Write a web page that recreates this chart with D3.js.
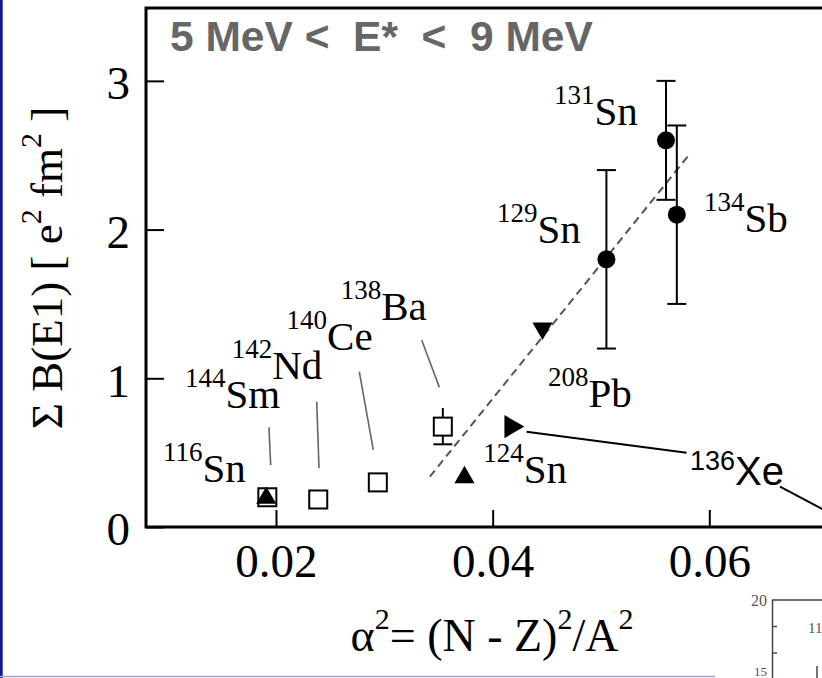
<!DOCTYPE html>
<html>
<head>
<meta charset="utf-8">
<script src="https://d3js.org/d3.v7.min.js"></script>
<style>
  body { margin: 0; background: #fff; }
  svg text { white-space: pre; }
</style>
</head>
<body>
<div id="chart"></div>
<script>
// Data
var xTicks = [0.02, 0.04, 0.06];
var yTicks = [0, 1, 2, 3];

// filled circles with error bars (radioactive beams)
var circleNames = ["129Sn", "131Sn", "134Sb"];
var circleX = [0.0505, 0.0560, 0.0570];
var circleY = [1.80, 2.60, 2.10];
var circleLo = [1.20, 2.20, 1.50];
var circleHi = [2.40, 3.00, 2.70];

// open squares (stable N=82 isotones)
var squareNames = ["144Sm", "142Nd", "140Ce", "138Ba"];
var squareX = [0.0192, 0.0239, 0.0294, 0.0354];
var squareY = [0.200, 0.185, 0.300, 0.675];
var squareLo = [null, null, null, 0.556];
var squareHi = [null, null, null, 0.800];

// triangles
var upTriX = [0.0191, 0.0374];
var upTriY = [0.195, 0.334];
var downTriX = [0.0446];
var downTriY = [1.336];
var rightTriX = [0.0417];
var rightTriY = [0.675];

// dashed guide line
var fitX = [0.0342, 0.0581];
var fitY = [0.338, 2.50];

// labels: superscript, symbol, anchor (data units)
var labelSup = ["131", "129", "134", "208", "124", "116", "144", "142", "140", "138"];
var labelSym = ["Sn", "Sn", "Sb", "Pb", "Sn", "Sn", "Sm", "Nd", "Ce", "Ba"];
var labelX = [0.04566, 0.0404, 0.0595, 0.04511, 0.03913, 0.00957, 0.0116, 0.01591, 0.02098, 0.02597];
var labelY = [2.704, 1.908, 1.986, 0.809, 0.294, 0.305, 0.798, 0.993, 1.190, 1.392];

// gray leader lines from labels to points
var leaders = [
    [[0.01935, 0.670], [0.01951, 0.417]],
    [[0.02376, 0.843], [0.02397, 0.395]],
    [[0.02769, 1.044], [0.02898, 0.518]],
    [[0.03345, 1.258], [0.03508, 0.939]]
];
// 136Xe pointer
var xePointer = [
    [[0.04313, 0.641], [0.05790, 0.500]],
    [[0.06653, 0.271], [0.07114, 0.094]]
];
var xeLabel = { sup: "136", sym: "Xe", x: 0.05822, y: 0.282 };

var W = 822, H = 678;

var svg = d3.select("#chart")
    .append("svg")
    .attr("width", W)
    .attr("height", H)
    .style("display", "block");

svg.append("rect").attr("width", W).attr("height", H).attr("fill", "#fff");

// slide decoration: navy bar on the left, light line at the bottom
svg.append("rect").attr("x", 0).attr("y", 0).attr("width", 2.7).attr("height", H).attr("fill", "#14148c");
svg.append("line").attr("x1", 0).attr("x2", 715).attr("y1", 676.5).attr("y2", 676.5)
    .attr("stroke", "#a4a4d8").attr("stroke-width", 1.5);

// scales
var x = d3.scaleLinear().domain([0.008, 0.075]).range([146, 146 + 0.067 * 10833]);
var y = d3.scaleLinear().domain([0, 3.49]).range([527, 8]);

var serif = "'Liberation Serif', 'Times New Roman', serif";
var sans = "'Liberation Sans', Arial, sans-serif";

// frame: top + left + bottom
svg.append("path")
    .attr("d", "M" + x.range()[1] + "," + y(3.49) + "H" + x(0.008) + "V" + y(0) + "H" + x.range()[1])
    .attr("fill", "none")
    .attr("stroke", "#000")
    .attr("stroke-width", 3);

// axes with inward ticks
var xAxis = d3.axisBottom(x).tickValues(xTicks).tickSize(-17).tickPadding(17)
    .tickFormat(d3.format(".2f"));
var gx = svg.append("g").attr("transform", "translate(0," + y(0) + ")").call(xAxis);
gx.select(".domain").remove();
gx.selectAll("line").attr("stroke-width", 2);
gx.selectAll("text").attr("font-family", serif).attr("font-size", 47).attr("fill", "#000");

var yAxis = d3.axisLeft(y).tickValues(yTicks).tickSize(-18).tickPadding(16)
    .tickFormat(d3.format("d"));
var gy = svg.append("g").attr("transform", "translate(" + x(0.008) + ",0)").call(yAxis);
gy.select(".domain").remove();
gy.selectAll("line").attr("stroke-width", 2);
gy.selectAll("text").attr("font-family", serif).attr("font-size", 47).attr("fill", "#000")
    .attr("dy", "0.38em");

// title
svg.append("text")
    .attr("x", 170).attr("y", 51)
    .attr("font-family", sans).attr("font-weight", "bold").attr("font-size", 42.5)
    .attr("fill", "#666")
    .text("5 MeV <  E*  <  9 MeV");

// axis titles
var yt = svg.append("text")
    .attr("transform", "translate(62,268) rotate(-90)")
    .attr("text-anchor", "middle")
    .attr("font-family", serif).attr("font-size", 45).attr("fill", "#000");
yt.append("tspan").text("\u03A3 B(E1) [ e");
yt.append("tspan").attr("font-size", 30).attr("dy", -21).text("2");
yt.append("tspan").attr("dy", 21).text(" fm");
yt.append("tspan").attr("font-size", 30).attr("dy", -21).text("2");
yt.append("tspan").attr("dy", 21).text(" ]");

var xt = svg.append("text")
    .attr("x", 492).attr("y", 651)
    .attr("text-anchor", "middle")
    .attr("font-family", serif).attr("font-size", 46).attr("fill", "#000");
xt.append("tspan").text("\u03B1");
xt.append("tspan").attr("font-size", 30).attr("dy", -22).text("2");
xt.append("tspan").attr("dy", 22).text("= (N - Z)");
xt.append("tspan").attr("font-size", 30).attr("dy", -22).text("2");
xt.append("tspan").attr("dy", 22).text("/A");
xt.append("tspan").attr("font-size", 30).attr("dy", -22).text("2");

// dashed guide line
svg.append("line")
    .attr("x1", x(fitX[0])).attr("y1", y(fitY[0]))
    .attr("x2", x(fitX[1])).attr("y2", y(fitY[1]))
    .attr("stroke", "#555").attr("stroke-width", 2).attr("stroke-dasharray", "8,5");

// leader lines
svg.selectAll(".leader")
    .data(leaders)
    .enter()
    .append("line")
    .attr("class", "leader")
    .attr("x1", function (d) { return x(d[0][0]); })
    .attr("y1", function (d) { return y(d[0][1]); })
    .attr("x2", function (d) { return x(d[1][0]); })
    .attr("y2", function (d) { return y(d[1][1]); })
    .attr("stroke", "#666").attr("stroke-width", 1.6);

svg.selectAll(".xeline")
    .data(xePointer)
    .enter()
    .append("line")
    .attr("class", "xeline")
    .attr("x1", function (d) { return x(d[0][0]); })
    .attr("y1", function (d) { return y(d[0][1]); })
    .attr("x2", function (d) { return x(d[1][0]); })
    .attr("y2", function (d) { return y(d[1][1]); })
    .attr("stroke", "#000").attr("stroke-width", 2);

// error bars helper
var drawErr = function (cx, lo, hi, capLo, capHi) {
    var g = svg.append("g").attr("stroke", "#000").attr("stroke-width", 2);
    g.append("line").attr("x1", cx).attr("x2", cx).attr("y1", y(lo)).attr("y2", y(hi));
    if (capLo) g.append("line").attr("x1", cx - 9.5).attr("x2", cx + 9.5).attr("y1", y(lo)).attr("y2", y(lo));
    if (capHi) g.append("line").attr("x1", cx - 9.5).attr("x2", cx + 9.5).attr("y1", y(hi)).attr("y2", y(hi));
};

circleX.forEach(function (d, i) {
    drawErr(x(d), circleLo[i], circleHi[i], true, true);
});
squareX.forEach(function (d, i) {
    if (squareLo[i] !== null) drawErr(x(d), squareLo[i], squareHi[i], true, false);
});

// open squares
svg.selectAll(".sq")
    .data(squareX)
    .enter()
    .append("rect")
    .attr("class", "sq")
    .attr("x", function (d) { return x(d) - 9; })
    .attr("y", function (d, i) { return y(squareY[i]) - 9; })
    .attr("width", 18).attr("height", 18)
    .attr("fill", "#fff").attr("stroke", "#000").attr("stroke-width", 2);

// filled circles
svg.selectAll(".dot")
    .data(circleX)
    .enter()
    .append("circle")
    .attr("class", "dot")
    .attr("cx", function (d) { return x(d); })
    .attr("cy", function (d, i) { return y(circleY[i]); })
    .attr("r", 9)
    .attr("fill", "#000");

// triangles
var tri = d3.symbol().type(d3.symbolTriangle).size(175);
svg.selectAll(".up")
    .data(upTriX)
    .enter()
    .append("path")
    .attr("class", "up")
    .attr("d", tri)
    .attr("transform", function (d, i) { return "translate(" + x(d) + "," + y(upTriY[i]) + ")"; })
    .attr("fill", "#000");
svg.selectAll(".down")
    .data(downTriX)
    .enter()
    .append("path")
    .attr("class", "down")
    .attr("d", tri)
    .attr("transform", function (d, i) { return "translate(" + x(d) + "," + y(downTriY[i]) + ") rotate(180)"; })
    .attr("fill", "#000");
svg.selectAll(".right")
    .data(rightTriX)
    .enter()
    .append("path")
    .attr("class", "right")
    .attr("d", d3.symbol().type(d3.symbolTriangle).size(230))
    .attr("transform", function (d, i) { return "translate(" + x(d) + "," + y(rightTriY[i]) + ") rotate(90)"; })
    .attr("fill", "#000");

// nucleus labels
labelSym.forEach(function (s, i) {
    var t = svg.append("text")
        .attr("x", x(labelX[i])).attr("y", y(labelY[i]))
        .attr("font-family", serif).attr("font-size", 41).attr("fill", "#000");
    t.append("tspan").attr("font-size", 27).attr("dy", -21).text(labelSup[i]);
    t.append("tspan").attr("dy", 21).text(s);
});

var xe = svg.append("text")
    .attr("x", x(xeLabel.x)).attr("y", y(xeLabel.y))
    .attr("font-family", sans).attr("font-size", 40).attr("fill", "#000");
xe.append("tspan").attr("font-size", 27).attr("dy", -15).text(xeLabel.sup);
xe.append("tspan").attr("dy", 15).text(xeLabel.sym);

// corner of the next figure peeking in at the bottom right
var inset = svg.append("g").attr("stroke", "#444").attr("stroke-width", 1.5);
inset.append("path").attr("d", "M822,600H772.5V678").attr("fill", "none");
inset.append("line").attr("x1", 772.5).attr("x2", 777).attr("y1", 626.5).attr("y2", 626.5);
inset.append("line").attr("x1", 772.5).attr("x2", 777).attr("y1", 653).attr("y2", 653);
inset.append("line").attr("x1", 817).attr("x2", 817).attr("y1", 666).attr("y2", 678);
svg.append("text").attr("x", 767).attr("y", 606).attr("text-anchor", "end")
    .attr("font-family", serif).attr("font-size", 16).attr("fill", "#555").text("20");
svg.append("text").attr("x", 767).attr("y", 676).attr("text-anchor", "end")
    .attr("font-family", serif).attr("font-size", 13).attr("fill", "#555").text("15");
svg.append("text").attr("x", 808).attr("y", 633)
    .attr("font-family", serif).attr("font-size", 15).attr("fill", "#555").text("11");
</script>
</body>
</html>
